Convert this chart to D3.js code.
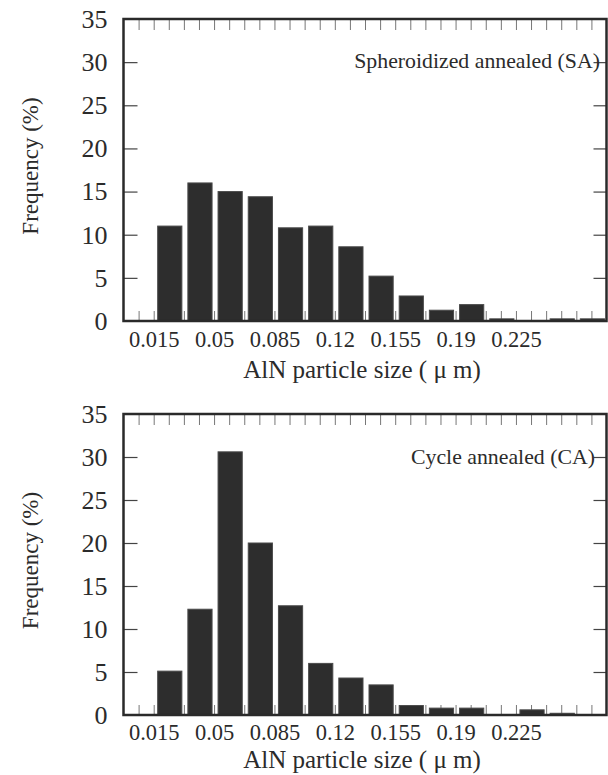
<!DOCTYPE html>
<html>
<head>
<meta charset="utf-8">
<script src="https://cdn.jsdelivr.net/npm/d3@7"></script>
<style>
  html, body { margin: 0; padding: 0; background: #fff; }
  svg { display: block; }
  svg text { font-family: "Liberation Serif", "Times New Roman", Times, Tinos, "DejaVu Serif", serif; fill: #2b2b2b; }
</style>
</head>
<body>
<svg id="chart" width="608" height="775"></svg>
<script>
// ---- data ----
const binStarts = [0.015, 0.0325, 0.05, 0.0675, 0.085, 0.1025, 0.12, 0.1375, 0.155, 0.1725, 0.19, 0.2075, 0.225, 0.2425, 0.26];
const binWidth = 0.0175;
const saFrequency = [11.0, 16.0, 15.0, 14.4, 10.8, 11.0, 8.6, 5.2, 2.9, 1.25, 1.9, 0.25, 0, 0.25, 0.25];
const caFrequency = [5.1, 12.3, 30.6, 20.0, 12.7, 6.0, 4.3, 3.5, 1.1, 0.8, 0.8, 0, 0.6, 0.2, 0];
const xTickLabels = [0.015, 0.05, 0.085, 0.12, 0.155, 0.19, 0.225];
const yTickValues = [0, 5, 10, 15, 20, 25, 30, 35];
const panelLabels = ["Spheroidized annealed (SA)", "Cycle annealed (CA)"];
const xTitle = "AlN particle size ( \u03bc m)";
const yTitle = "Frequency (%)";

const svg = d3.select("#chart");

const xDomain = [-0.0025, 0.2775];
const minorStep = 0.00875;

const panels = [
  { values: saFrequency, label: panelLabels[0], top: 19, bottom: 321, labelX: 600, labelY: 68, titleOffset: 57, tickPad: 10 },
  { values: caFrequency, label: panelLabels[1], top: 414, bottom: 715, labelX: 595, labelY: 464, titleOffset: 53, tickPad: 9 }
];

const left = 123.5, right = 606.5;
const serif = "'Liberation Serif', 'Times New Roman', Times, Tinos, 'DejaVu Serif', serif";

panels.forEach(p => {
  const x = d3.scaleLinear().domain(xDomain).range([left, right]);
  const y = d3.scaleLinear().domain([0, 35]).range([p.bottom, p.top]);
  const g = svg.append("g");

  const minorTicks = d3.range(1, 32).map(k => xDomain[0] + k * minorStep);
  g.append("g")
    .attr("transform", `translate(0,${p.top})`)
    .call(d3.axisBottom(x).tickValues(minorTicks).tickSize(11).tickFormat(""))
    .call(s => s.select(".domain").remove())
    .call(s => s.selectAll("line").attr("stroke", "#777").attr("stroke-width", 1));
  g.append("g")
    .attr("transform", `translate(0,${p.bottom})`)
    .call(d3.axisTop(x).tickValues(minorTicks).tickSize(10).tickFormat(""))
    .call(s => s.select(".domain").remove())
    .call(s => s.selectAll("line").attr("stroke", "#777").attr("stroke-width", 1));

  const innerY = yTickValues.filter(v => v > 0 && v < 35);
  g.append("g")
    .attr("transform", `translate(${left},0)`)
    .call(d3.axisRight(y).tickValues(innerY).tickSize(14).tickFormat(""))
    .call(s => s.select(".domain").remove())
    .call(s => s.selectAll("line").attr("stroke", "#444").attr("stroke-width", 1.2));
  g.append("g")
    .attr("transform", `translate(${right},0)`)
    .call(d3.axisLeft(y).tickValues(innerY).tickSize(13).tickFormat(""))
    .call(s => s.select(".domain").remove())
    .call(s => s.selectAll("line").attr("stroke", "#444").attr("stroke-width", 1.2));

  g.append("g").selectAll("rect")
    .data(binStarts.map((b, i) => ({ start: b, v: p.values[i] })).filter(d => d.v > 0))
    .join("rect")
    .attr("x", d => x(d.start) + 4)
    .attr("width", d => x(d.start + binWidth) - x(d.start) - 6)
    .attr("y", d => y(d.v))
    .attr("height", d => y(0) - y(d.v))
    .attr("fill", "#2d2d2d")
    .attr("stroke", "#4a4a4a")
    .attr("stroke-width", 1);

  g.append("rect")
    .attr("x", left).attr("y", p.top)
    .attr("width", right - left).attr("height", p.bottom - p.top)
    .attr("fill", "none").attr("stroke", "#2a2a2a").attr("stroke-width", 2.5);

  g.append("g")
    .attr("transform", `translate(${left},0)`)
    .call(d3.axisLeft(y).tickValues(yTickValues).tickSize(0).tickPadding(16).tickFormat(d3.format("d")))
    .attr("font-family", serif)
    .call(s => s.select(".domain").remove())
    .call(s => s.selectAll("text")
      .attr("font-size", 26).attr("fill", "#2b2b2b"));

  g.append("g")
    .attr("transform", `translate(0,${p.bottom})`)
    .call(d3.axisBottom(x).tickValues(xTickLabels).tickSize(0).tickPadding(p.tickPad).tickFormat(d => String(d)))
    .attr("font-family", serif)
    .call(s => s.select(".domain").remove())
    .call(s => s.selectAll("text")
      .attr("font-size", 22.5).attr("fill", "#2b2b2b"));

  g.append("text")
    .attr("x", 362).attr("y", p.bottom + p.titleOffset)
    .attr("text-anchor", "middle")
    .attr("font-family", serif)
    .attr("font-size", 25)
    .text(xTitle);

  g.append("text")
    .attr("transform", `translate(38,${(p.top + p.bottom) / 2 - 4}) rotate(-90)`)
    .attr("text-anchor", "middle")
    .attr("font-family", serif)
    .attr("font-size", 23)
    .text(yTitle);

  g.append("text")
    .attr("x", p.labelX).attr("y", p.labelY)
    .attr("text-anchor", "end")
    .attr("font-family", serif)
    .attr("font-size", 21.8)
    .text(p.label);
});
</script>
</body>
</html>
